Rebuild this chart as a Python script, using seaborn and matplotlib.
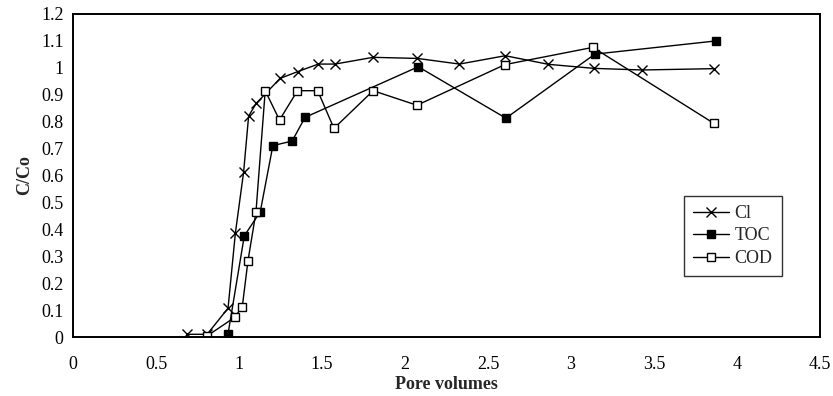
import matplotlib
matplotlib.use("Agg")
import matplotlib.pyplot as plt
import seaborn as sns
import pandas as pd
from matplotlib.ticker import FuncFormatter

cl_x = [0.688, 0.808, 0.934, 0.978, 1.028, 1.058, 1.104, 1.248, 1.354, 1.478, 1.578, 1.808,
        2.074, 2.328, 2.604, 2.864, 3.138, 3.428, 3.864]
cl_y = [0.01, 0.01, 0.107, 0.385, 0.614, 0.821, 0.868, 0.961, 0.986, 1.014, 1.014, 1.039,
        1.035, 1.014, 1.045, 1.013, 0.998, 0.992, 0.997]

toc_x = [0.934, 1.032, 1.128, 1.204, 1.32, 1.398, 2.08, 2.608, 3.144, 3.874]
toc_y = [0.012, 0.376, 0.465, 0.711, 0.728, 0.816, 1.004, 0.813, 1.051, 1.10]

cod_x = [0.808, 0.974, 1.02, 1.054, 1.102, 1.158, 1.244, 1.352, 1.474, 1.572, 1.808,
         2.072, 2.602, 3.132, 3.86]
cod_y = [0.004, 0.073, 0.113, 0.283, 0.463, 0.915, 0.806, 0.915, 0.915, 0.775, 0.915,
         0.861, 1.012, 1.076, 0.794]

x_ticks = [0, 0.5, 1, 1.5, 2, 2.5, 3, 3.5, 4, 4.5]
y_ticks = [0, 0.1, 0.2, 0.3, 0.4, 0.5, 0.6, 0.7, 0.8, 0.9, 1.0, 1.1, 1.2]

sns.set_style("white")
plt.rcParams['font.family'] = ['Liberation Serif', 'DejaVu Serif']

fig = plt.figure(figsize=(8.33, 3.96), dpi=100)
ax = fig.add_axes([73/833, 59/396, (820-73)/833, (337-14)/396])

df_cl = pd.DataFrame({"x": cl_x, "y": cl_y})
df_toc = pd.DataFrame({"x": toc_x, "y": toc_y})
df_cod = pd.DataFrame({"x": cod_x, "y": cod_y})

sns.lineplot(data=df_cl, x="x", y="y", ax=ax, sort=False, color="black", lw=1,
             marker="x", markersize=7, markeredgewidth=1, markeredgecolor="black", label="Cl")
sns.lineplot(data=df_toc, x="x", y="y", ax=ax, sort=False, color="black", lw=1,
             marker="s", markersize=6, markerfacecolor="black", markeredgecolor="black",
             markeredgewidth=1, label="TOC")
sns.lineplot(data=df_cod, x="x", y="y", ax=ax, sort=False, color="black", lw=1,
             marker="s", markersize=6, markerfacecolor="white", markeredgecolor="black",
             markeredgewidth=1, label="COD")

ax.set_xlim(0, 4.5)
ax.set_ylim(0, 1.2)
ax.set_xticks(x_ticks)
ax.set_yticks(y_ticks)
ax.xaxis.set_major_formatter(FuncFormatter(lambda v, p: f"{v:g}"))
ax.yaxis.set_major_formatter(FuncFormatter(lambda v, p: f"{v:g}"))
ax.tick_params(axis="both", direction="inout", length=7.5, width=1, colors="black",
               labelsize=13, pad=3)
ax.tick_params(axis="x", pad=10)
for s in ax.spines.values():
    s.set_visible(True)
    s.set_color("black")
    s.set_linewidth(1.4)

ax.set_xlabel("Pore volumes", fontsize=13, fontweight="bold", labelpad=2)
ax.set_ylabel("C/Co", fontsize=13, fontweight="bold", labelpad=6)

leg = ax.legend(loc="upper left", bbox_to_anchor=((675-73)/747, (337-187)/323),
                frameon=True, fancybox=False, edgecolor="black", fontsize=13,
                handlelength=2.0, handletextpad=0.3, borderpad=0.5, labelspacing=0.3)
leg.get_frame().set_linewidth(1.0)

fig.savefig("out.png", dpi=100)
